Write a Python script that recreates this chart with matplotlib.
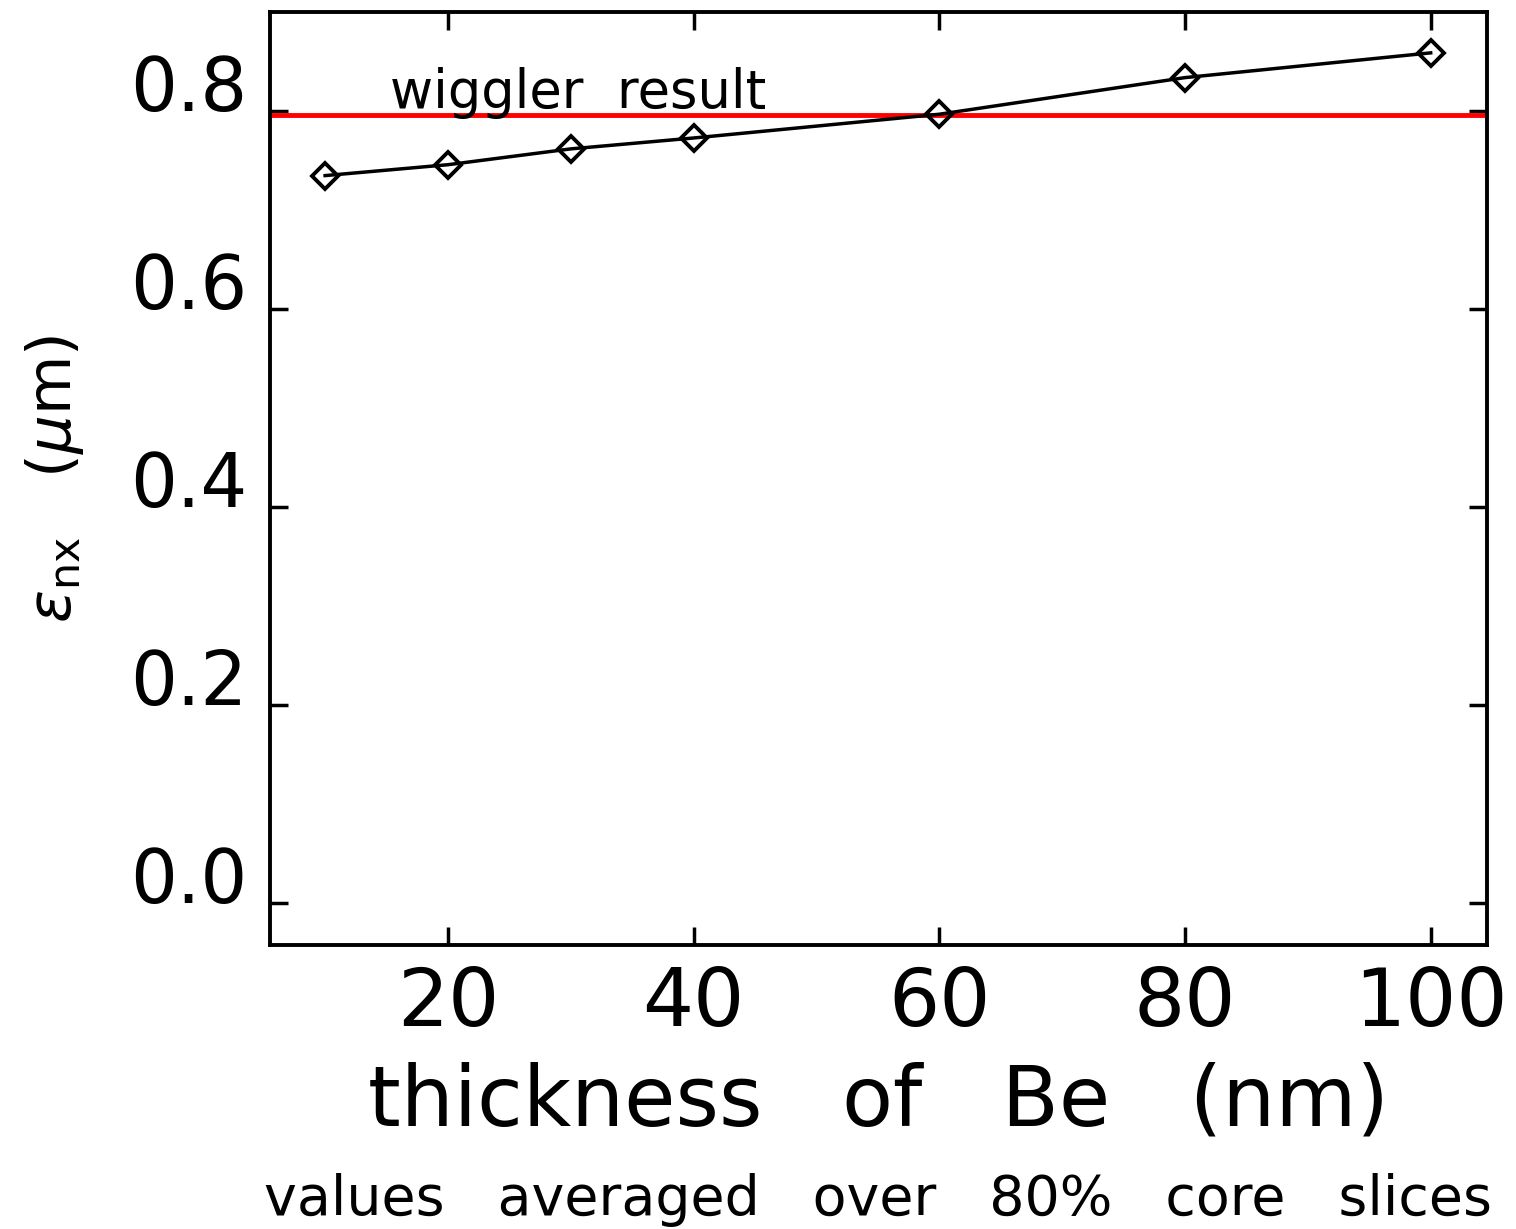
import numpy as np
import matplotlib
matplotlib.use("Agg")
import matplotlib.pyplot as plt

# emittance vs Be foil thickness
thickness = [10, 20, 30, 40, 60, 80, 100]
emit_nx = [0.735, 0.746, 0.762, 0.773, 0.797, 0.834, 0.859]
wiggler = 0.796

xticks = [20, 40, 60, 80, 100]
yticks = [0.0, 0.2, 0.4, 0.6, 0.8]

plt.rcParams['font.family'] = ['DejaVu Sans']
plt.rcParams['mathtext.fontset'] = 'dejavusans'

fig = plt.figure(figsize=(15.16, 12.29), dpi=100)
ax = fig.add_axes([0.178, 0.231, 0.803, 0.759])

ax.plot(thickness, emit_nx, color='black', lw=2.5, marker='D', ms=13,
        mfc='none', mec='black', mew=2.8, zorder=3)
ax.axhline(wiggler, color='red', lw=3.5, zorder=2)
ax.text(15.3, 0.803, 'wiggler  result', fontsize=38, ha='left', va='baseline')

ax.set_xlim(5.5, 104.6)
ax.set_ylim(-0.0425, 0.9)
ax.set_xticks(xticks)
ax.set_yticks(yticks)
ax.set_xticklabels([str(t) for t in xticks])
ax.set_yticklabels(['%.1f' % t for t in yticks])

for s in ax.spines.values():
    s.set_linewidth(2.8)
ax.tick_params(direction='in', length=13, width=2.5, top=True, right=True)
ax.tick_params(axis='x', pad=14, labelsize=58)
ax.tick_params(axis='y', pad=16, labelsize=53)
for lab in ax.get_yticklabels():
    lab.set_verticalalignment('baseline')

ax.set_xlabel('thickness   of   Be   (nm)', fontsize=60)
ax.xaxis.set_label_coords(0.5, -0.125)
ax.set_ylabel(r'$\varepsilon_{\rm nx}$   ($\mu$m)', fontsize=44, va='center')
ax.yaxis.set_label_coords(-0.177, 0.5)

fig.text(0.579, 0.011, 'values   averaged   over   80%   core   slices',
         fontsize=40, ha='center', va='baseline')

fig.savefig('out.png', dpi=100)
